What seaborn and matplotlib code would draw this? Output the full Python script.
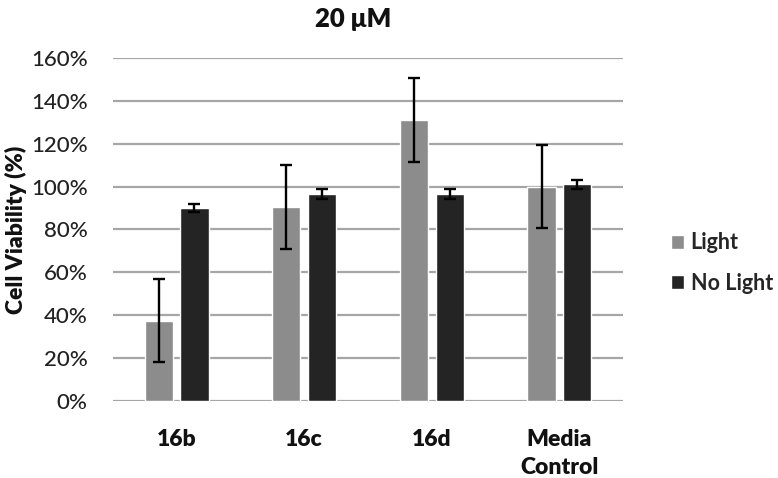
import matplotlib
matplotlib.use("Agg")
import matplotlib.pyplot as plt
import seaborn as sns
import pandas as pd
import numpy as np

categories = ["16b", "16c", "16d", "Media\nControl"]
series = ["Light", "No Light"]
light_vals = [0.375, 0.905, 1.31, 1.00]
light_err = [0.195, 0.195, 0.195, 0.195]
nolight_vals = [0.90, 0.965, 0.965, 1.01]
nolight_err = [0.02, 0.025, 0.025, 0.02]
yticks = [0, 0.2, 0.4, 0.6, 0.8, 1.0, 1.2, 1.4, 1.6]
colors = ["#8c8c8c", "#242424"]

sns.set_theme(style="white")
plt.rcParams['font.family'] = ['Lato', 'DejaVu Sans']
plt.rcParams['ytick.major.pad'] = 18
plt.rcParams['xtick.major.pad'] = 20
plt.rcParams['ytick.major.size'] = 0
plt.rcParams['xtick.major.size'] = 0

df = pd.DataFrame({
    "cat": categories * 2,
    "series": [series[0]] * 4 + [series[1]] * 4,
    "val": light_vals + nolight_vals,
    "err": light_err + nolight_err,
})

fig = plt.figure(figsize=(7.78, 4.78), dpi=100)
ax = fig.add_axes([0.145, 0.161, 0.656, 0.718])
sns.barplot(data=df, x="cat", y="val", hue="series", order=categories,
            hue_order=series, palette=colors, width=0.56, gap=0.21,
            errorbar=None, saturation=1, ax=ax, zorder=3)

for cont, errs in zip(ax.containers, [light_err, nolight_err]):
    for patch, e in zip(cont.patches, errs):
        xc = patch.get_x() + patch.get_width() / 2
        ax.errorbar(xc, patch.get_height(), yerr=e, color="black", lw=1.7,
                    capsize=4.5, capthick=1.7, zorder=4)

ax.set_ylim(0, 1.6)
ax.set_xlim(-0.5, 3.5)
ax.set_yticks(yticks)
ax.set_yticklabels([f"{int(round(t*100))}%" for t in yticks], fontsize=16,
                   fontweight="medium", color="#222222")
ax.yaxis.grid(True, color="#a6a6a6", lw=1.6, zorder=0)
ax.set_axisbelow(True)
ax.yaxis.set_tick_params(pad=18, length=0)
ax.xaxis.set_tick_params(pad=20, length=0)
for lab in ax.get_xticklabels():
    lab.set_fontweight("heavy")
    lab.set_fontsize(16.5)
    lab.set_color("#111111")
    lab.set_linespacing(1.45)
for s in ax.spines.values():
    s.set_visible(False)
ax.set_xlabel("")
ax.set_ylabel("Cell Viability (%)", fontsize=16.5, fontweight="heavy", color="#111111")
ax.yaxis.set_label_coords(-0.168, 0.5)

fig.text(353/778, 1 - 19/478, "20 μM", ha="center", va="center",
         fontsize=18.5, fontweight="heavy", color="#111111")

handles, labels = ax.get_legend_handles_labels()
ax.legend_.remove()
leg = fig.legend(handles, labels, loc="center left", bbox_to_anchor=(652/778, 1 - 263/478),
           frameon=False, handlelength=0.6, handleheight=0.6,
           handletextpad=0.3, labelspacing=0.9,
           prop={"family": ["Lato", "DejaVu Sans"], "weight": "bold", "size": 15.5})

fig.savefig("out.png", dpi=100)
